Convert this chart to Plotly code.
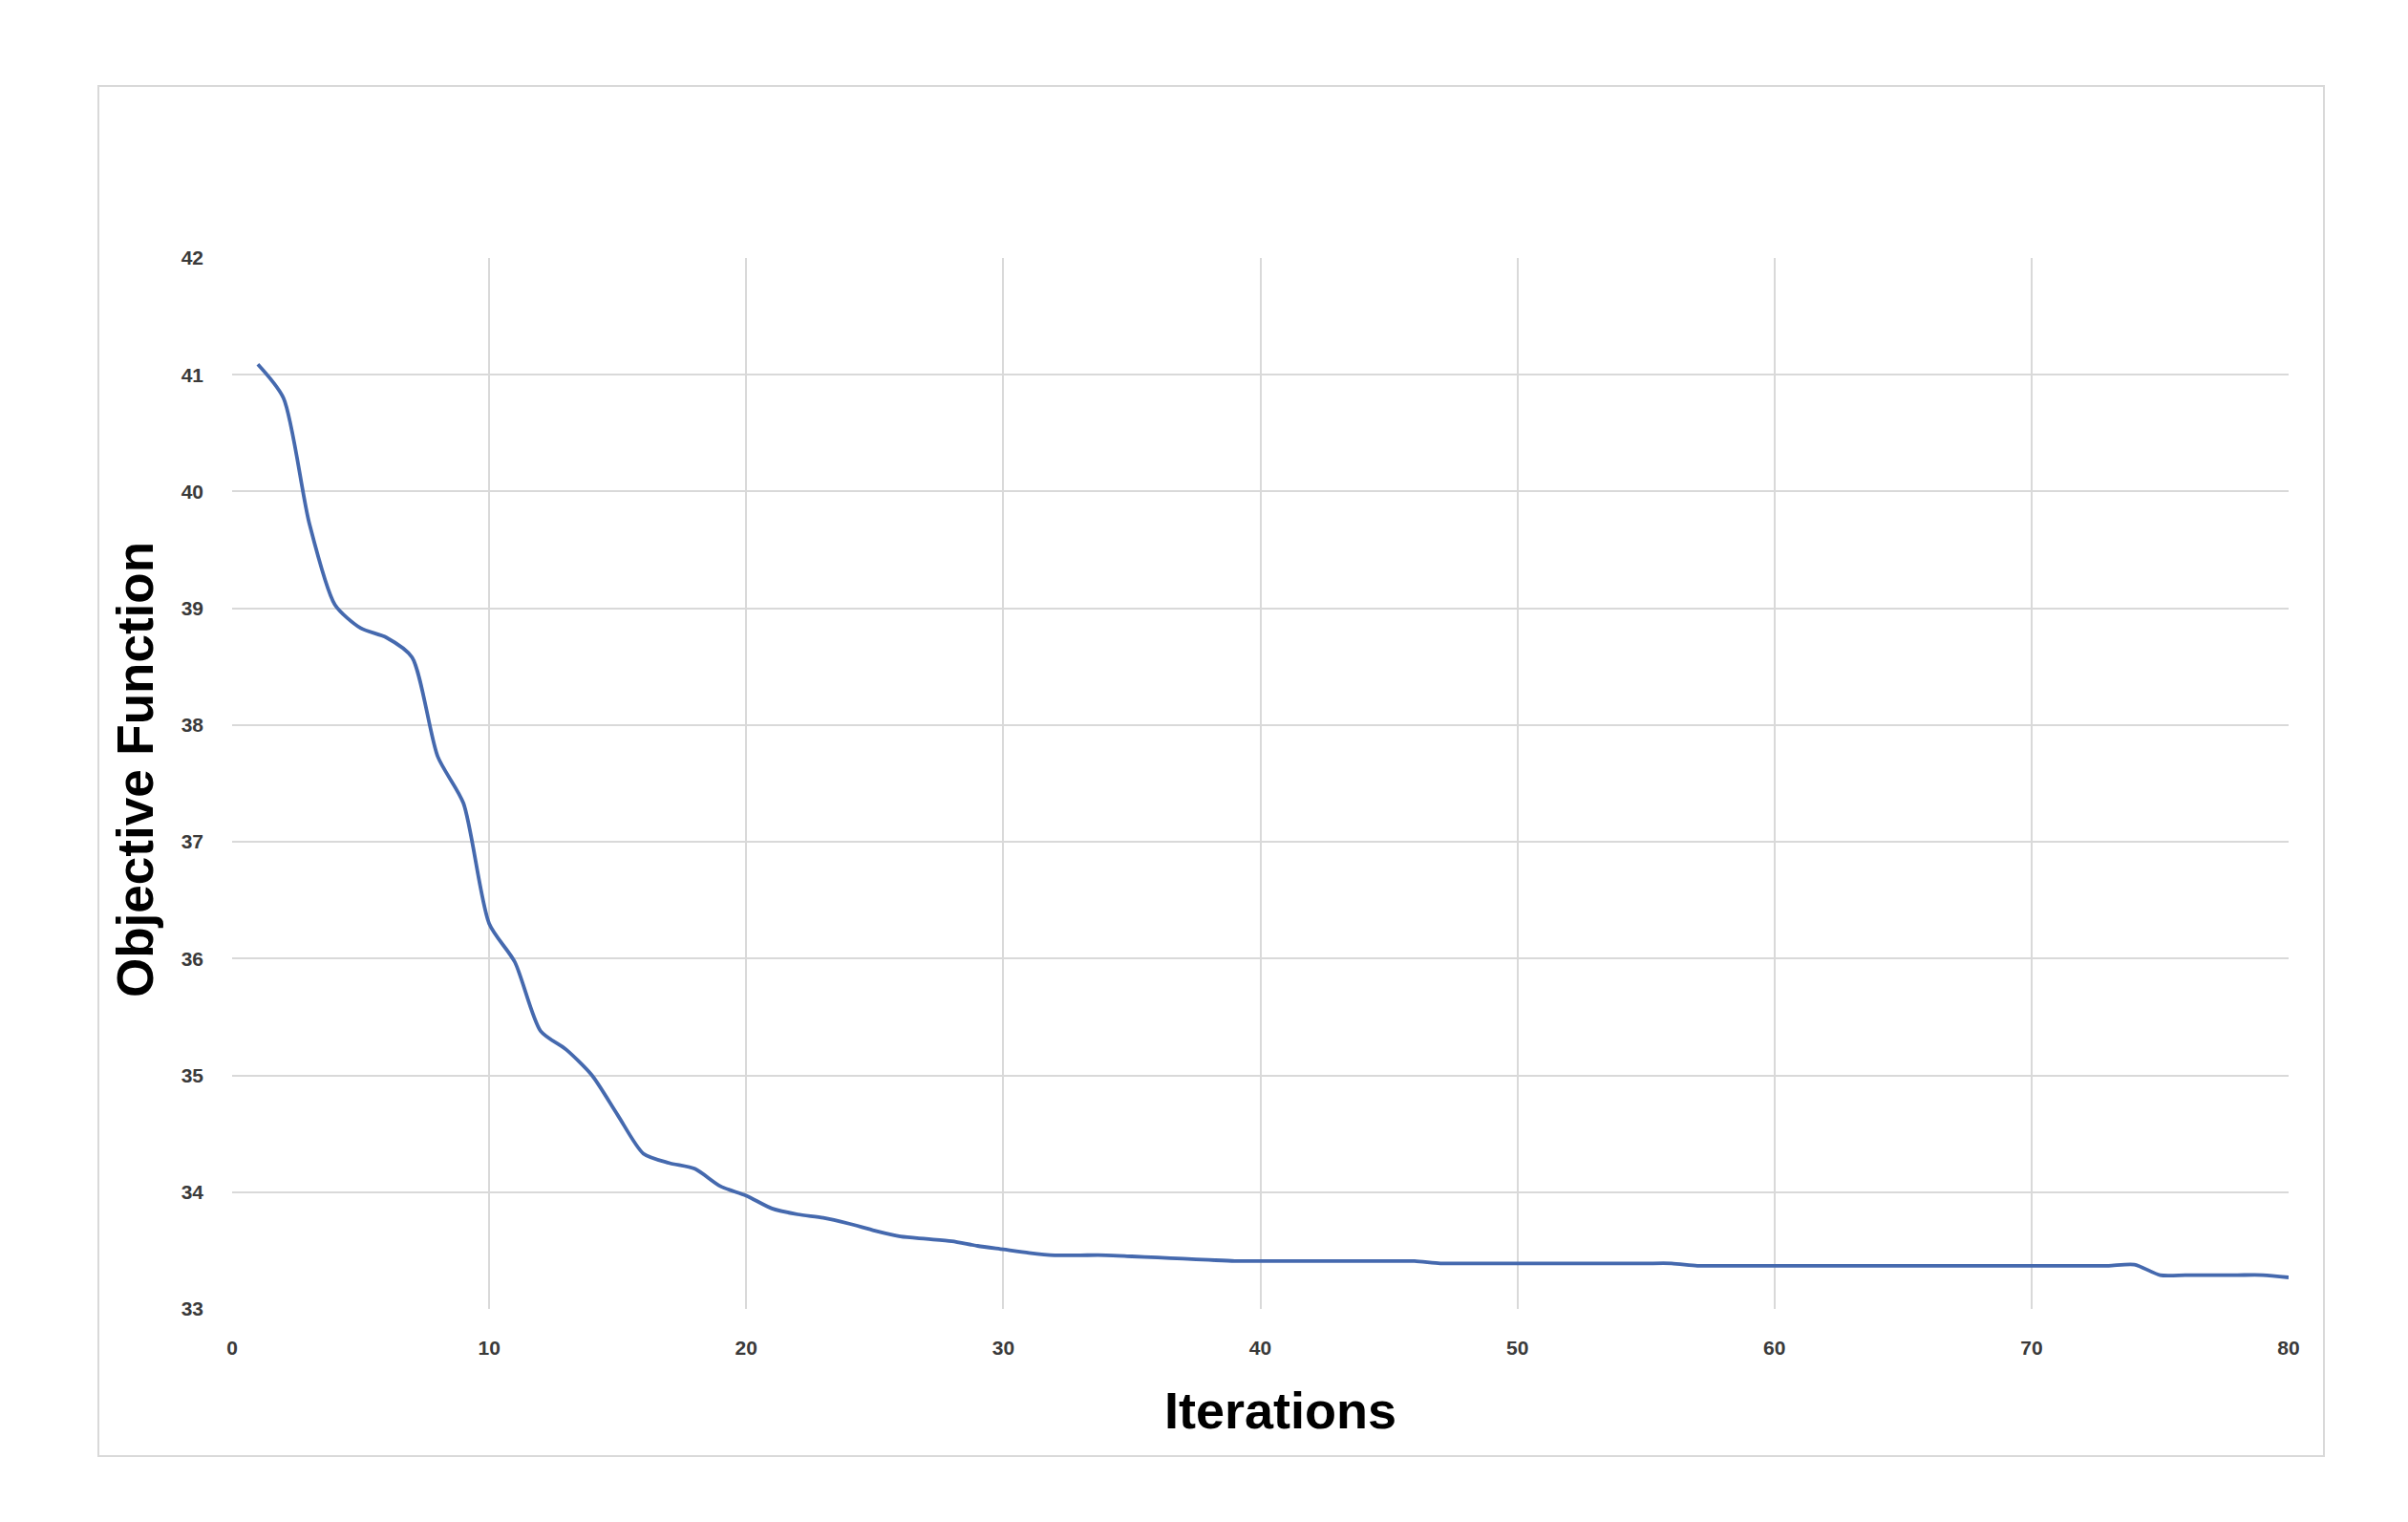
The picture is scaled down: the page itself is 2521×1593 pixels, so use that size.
import plotly.graph_objects as go

# ---- data ----
iterations = list(range(1, 81))
objective = [
    41.09, 40.80, 39.73, 39.03, 38.83, 38.75, 38.58, 37.73, 37.33, 36.30,
    35.97, 35.38, 35.22, 35.00, 34.66, 34.33, 34.25, 34.20, 34.05, 33.97,
    33.86, 33.81, 33.78, 33.73, 33.67, 33.62, 33.60, 33.58, 33.54, 33.51,
    33.48, 33.46, 33.46, 33.46, 33.45, 33.44, 33.43, 33.42, 33.41, 33.41,
    33.41, 33.41, 33.41, 33.41, 33.41, 33.41, 33.39, 33.39, 33.39, 33.39,
    33.39, 33.39, 33.39, 33.39, 33.39, 33.39, 33.37, 33.37, 33.37, 33.37,
    33.37, 33.37, 33.37, 33.37, 33.37, 33.37, 33.37, 33.37, 33.37, 33.37,
    33.37, 33.37, 33.37, 33.38, 33.29, 33.29, 33.29, 33.29, 33.29, 33.27,
]
x_ticks = [0, 10, 20, 30, 40, 50, 60, 70, 80]
y_ticks = [33, 34, 35, 36, 37, 38, 39, 40, 41, 42]
x_title = "Iterations"
y_title = "Objective Function"

# page has an 8px body margin; work in page pixel coordinates
OFF = 8
W, H = 2521 - 2 * OFF, 1593 - 2 * OFF
PL, PR, PT, PB = 243, 2396, 270, 1370  # plot area in page pixels
L, T = PL - OFF, PT - OFF
R, B = W - (PR - OFF), H - (PB - OFF)
pw, ph = PR - PL, PB - PT

def px_x(p):
    return (p - PL) / pw

def px_y(p):
    return (PB - p) / ph

fig = go.Figure()
fig.add_trace(go.Scatter(
    x=iterations, y=objective, mode="lines",
    line=dict(color="#4569ae", width=3.8, shape="spline", smoothing=0.7),
    showlegend=False, hoverinfo="x+y",
))

grid = "#d9d9d9"
tickfont = dict(family="Liberation Sans, Arial, sans-serif", size=21,
                color="#3a3a3a", weight="bold")

fig.update_layout(
    width=W, height=H,
    margin=dict(l=L, r=R, t=T, b=B, autoexpand=False),
    paper_bgcolor="white", plot_bgcolor="white",
    xaxis=dict(range=[0, 80], tickvals=x_ticks, ticktext=[str(v) for v in x_ticks],
               showgrid=True, gridcolor=grid, gridwidth=2, zeroline=False,
               showline=False, ticks="", tickfont=tickfont, ticklabelstandoff=26),
    yaxis=dict(range=[33, 42], tickvals=y_ticks, ticktext=[str(v) for v in y_ticks],
               showgrid=True, gridcolor=grid, gridwidth=2, zeroline=False,
               showline=False, ticks="", tickfont=tickfont, ticklabelstandoff=29),
    shapes=[
        dict(type="rect", xref="paper", yref="paper",
             x0=px_x(103), x1=px_x(2433), y0=px_y(1524), y1=px_y(90),
             line=dict(color=grid, width=2), fillcolor="rgba(0,0,0,0)", layer="below"),
    ],
    annotations=[
        dict(text=y_title, xref="paper", yref="paper", x=px_x(141), y=px_y(806),
             xanchor="center", yanchor="middle", textangle=-90, showarrow=False,
             font=dict(family="Liberation Sans, Arial, sans-serif", size=53,
                       color="black", weight="bold")),
        dict(text=x_title, xref="paper", yref="paper", x=px_x(1340), y=px_y(1476),
             xanchor="center", yanchor="middle", showarrow=False,
             font=dict(family="Liberation Sans, Arial, sans-serif", size=54,
                       color="black", weight="bold")),
    ],
)

fig.write_html("out.html")
